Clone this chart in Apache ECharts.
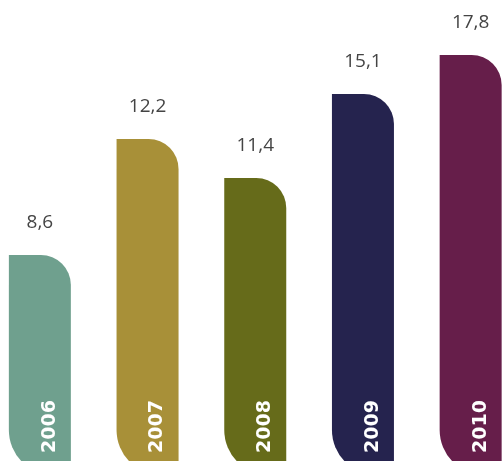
<!DOCTYPE html>
<html>
<head>
<meta charset="utf-8">
<script src="https://cdn.jsdelivr.net/npm/echarts@6/dist/echarts.min.js"></script>
<style>
  html, body { margin: 0; padding: 0; background: #fff; }
  #chart { width: 502px; height: 461px; }
</style>
</head>
<body>
<div id="chart"></div>
<script>
const years = ['2006', '2007', '2008', '2009', '2010']
// printed values above the bars
const valueLabels = ['8,6', '12,2', '11,4', '15,1', '17,8']
// bar heights as drawn in the picture (not proportional to the printed values)
const barHeights = [220, 336, 297, 381, 420]
const colors = ['#6fa08e', '#a89038', '#666b1a', '#25234e', '#661e4a']

const chart = echarts.init(document.getElementById('chart'))

chart.setOption({
  animation: false,
  backgroundColor: '#fff',
  grid: [
    // bars run a bit past the bottom edge, so the lower corner is cut off
    {left: -14, right: -22.5, top: 0, bottom: -14, outerBoundsMode: 'none'},
    // same layout shifted right so the year labels sit off-centre
    {left: -4, right: -32.5, top: 0, bottom: 0, outerBoundsMode: 'none'}
  ],
  xAxis: [
    {
      type: 'category', gridIndex: 0, data: years,
      axisLine: {show: false}, axisTick: {show: false}, axisLabel: {show: false}
    },
    {
      type: 'category', gridIndex: 1, data: years, z: 10,
      axisLine: {show: false}, axisTick: {show: false},
      axisLabel: {
        inside: true, rotate: 90, margin: 8,
        color: '#fff', fontWeight: 'bold', fontSize: 19,
        fontFamily: 'DejaVu Sans, sans-serif'
      }
    }
  ],
  yAxis: [
    {type: 'value', gridIndex: 0, min: 0, max: 475, show: false},
    {type: 'value', gridIndex: 1, min: 0, max: 1, show: false}
  ],
  series: [{
    type: 'bar',
    xAxisIndex: 0, yAxisIndex: 0,
    barWidth: 62,
    data: barHeights.map((v, i) => ({
      value: v,
      itemStyle: {color: colors[i]}
    })),
    itemStyle: {borderRadius: [0, 30, 0, 45]},
    label: {
      show: true,
      position: 'top',
      distance: 23,
      formatter: p => valueLabels[p.dataIndex],
      color: '#444',
      fontSize: 19,
      fontFamily: 'Open Sans, sans-serif'
    }
  }]
})
</script>
</body>
</html>
